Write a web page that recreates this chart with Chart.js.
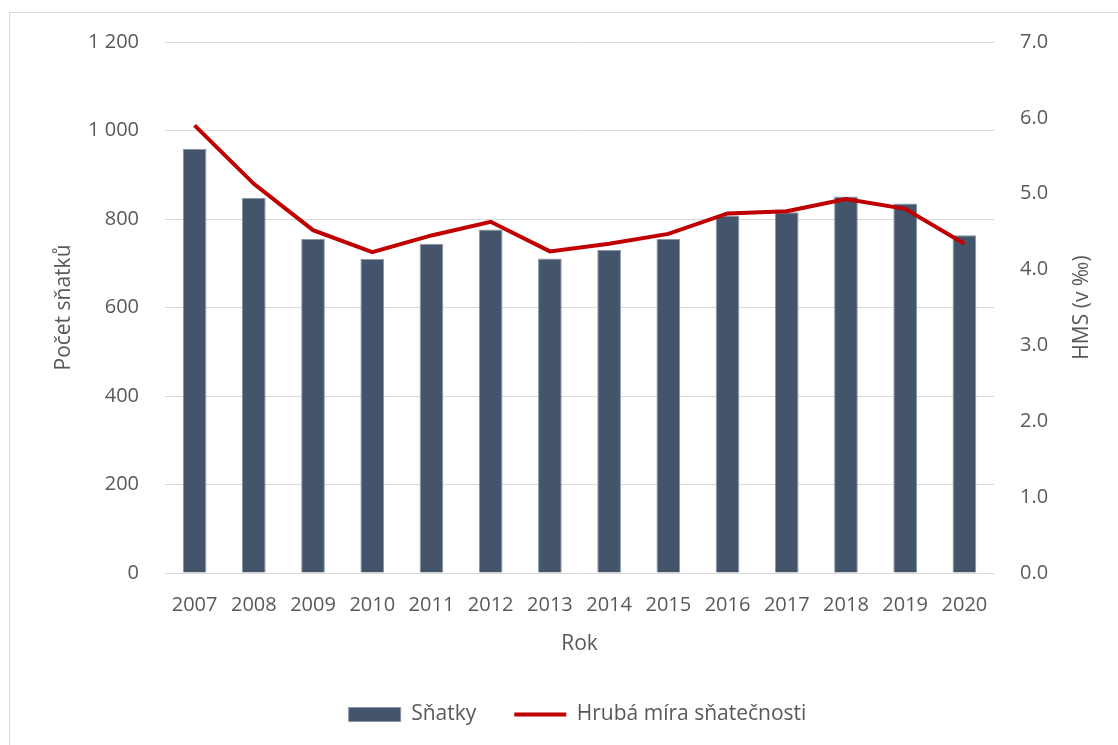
<!DOCTYPE html>
<html>
<head>
<meta charset="utf-8">
<script src="https://cdn.jsdelivr.net/npm/chart.js@4/dist/chart.umd.min.js"></script>
<style>
  html, body { margin: 0; padding: 0; background: #fff; overflow: hidden; }
  #frame { position: absolute; left: 9px; top: 12px; width: 1200px; height: 800px; border: 1px solid #d9d9d9; }
  #wrap { position: absolute; left: 0; top: 0; width: 1118px; height: 745px; }
</style>
</head>
<body>
<div id="frame"></div>
<div id="wrap"><canvas id="chart"></canvas></div>
<script>
// roky
var years = ['2007', '2008', '2009', '2010', '2011', '2012', '2013', '2014', '2015', '2016', '2017', '2018', '2019', '2020'];
// pocet snatku
var marriages = [958, 848, 755, 710, 744, 776, 711, 730, 755, 808, 815, 851, 835, 763];
// hruba mira snatecnosti (v promile)
var hms = [5.90, 5.13, 4.52, 4.23, 4.45, 4.63, 4.24, 4.34, 4.47, 4.74, 4.77, 4.93, 4.80, 4.34];

var textColor = '#595959';
var fontFamily = '"Open Sans", "Noto Sans", sans-serif';

Chart.defaults.font.family = fontFamily;
Chart.defaults.color = textColor;

function spaced(v){
	return String(v).replace(/\B(?=(\d{3})+(?!\d))/g, ' ');
}

// titulek prave osy, citelny zdola nahoru jako v Excelu
var rightTitle = {
	id: 'rightTitle',
	afterDraw: function(chart){
		var ctx = chart.ctx;
		var area = chart.chartArea;
		ctx.save();
		ctx.translate(1082, (area.top + area.bottom) / 2);
		ctx.rotate(-Math.PI / 2);
		ctx.font = '21px ' + fontFamily;
		ctx.fillStyle = textColor;
		ctx.textAlign = 'center';
		ctx.textBaseline = 'middle';
		ctx.fillText('HMS (v ‰)', 0, 0);
		ctx.restore();
	}
};

var chart = new Chart(document.getElementById('chart'), {
	data: {
		labels: years,
		datasets: [{
			type: 'line',
			label: 'Hrubá míra sňatečnosti',
			data: hms,
			yAxisID: 'y1',
			borderColor: '#c00000',
			backgroundColor: '#c00000',
			borderWidth: 4,
			pointRadius: 0,
			pointStyle: 'line',
			tension: 0,
			order: 0
		}, {
			type: 'bar',
			label: 'Sňatky',
			data: marriages,
			yAxisID: 'y',
			backgroundColor: '#44546a',
			borderColor: '#8a96a8',
			borderWidth: 1,
			pointStyle: 'rect',
			categoryPercentage: 1,
			barPercentage: 0.4,
			order: 1
		}]
	},
	options: {
		responsive: true,
		maintainAspectRatio: false,
		animation: false,
		layout: { padding: { top: 42, left: 47, right: 10, bottom: 10 } },
		plugins: {
			tooltip: { enabled: false },
			legend: {
				position: 'bottom',
				reverse: true,
				labels: {
					usePointStyle: true,
					pointStyleWidth: 52,
					boxHeight: 14,
					padding: 38,
					color: textColor,
					font: { size: 21 }
				}
			}
		},
		scales: {
			x: {
				grid: { display: false },
				border: { display: false },
				ticks: { color: textColor, font: { size: 20 }, padding: 12, maxRotation: 0 },
				title: { display: true, text: 'Rok', color: textColor, font: { size: 21 }, padding: { top: 4, bottom: 9 } },
				afterFit: function(s){ s.height = 93; }
			},
			y: {
				position: 'left',
				min: 0, max: 1200,
				ticks: { stepSize: 200, color: textColor, font: { size: 20 }, padding: 26, callback: function(v){ return spaced(v); } },
				grid: { color: '#d9d9d9', lineWidth: 1, drawTicks: false },
				border: { display: false },
				title: { display: true, text: 'Počet sňatků', color: textColor, font: { size: 21 } },
				afterFit: function(s){ s.width = 118; }
			},
			y1: {
				position: 'right',
				min: 0, max: 7,
				ticks: { stepSize: 1, color: textColor, font: { size: 20 }, padding: 26, callback: function(v){ return v.toFixed(1); } },
				grid: { display: false, drawTicks: false },
				border: { display: false },
				afterFit: function(s){ s.width = 114; }
			}
		}
	},
	plugins: [rightTitle]
});
</script>
</body>
</html>
